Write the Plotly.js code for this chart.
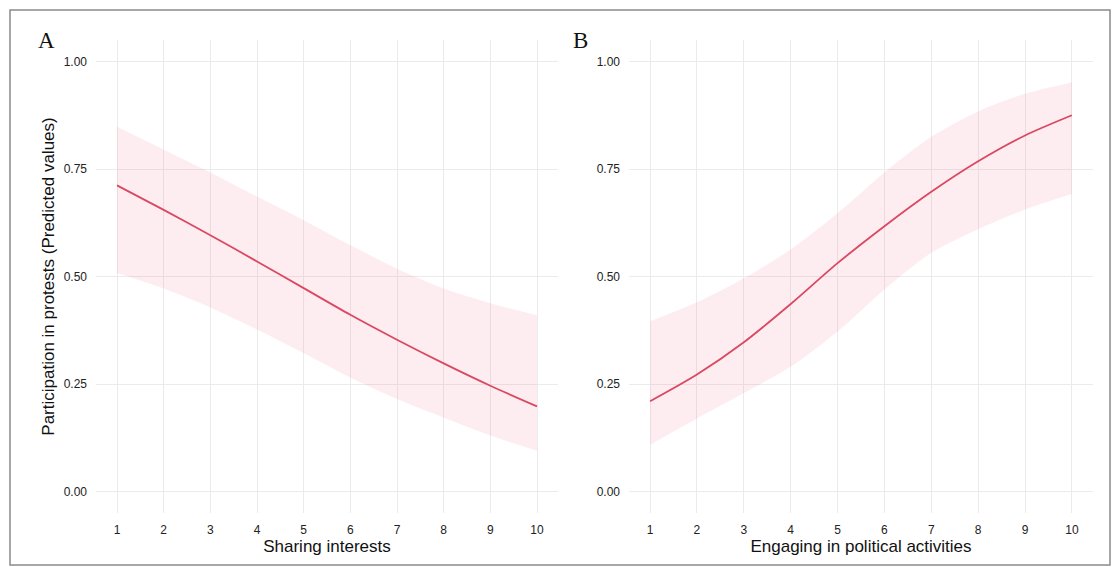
<!DOCTYPE html>
<html>
<head>
<meta charset="utf-8">
<script src="https://cdn.plot.ly/plotly-3.0.1.min.js"></script>
<style>
  html, body { margin: 0; padding: 0; background: #ffffff; }
  #chart { width: 1113px; height: 567px; }
</style>
</head>
<body>
<div id="chart"></div>
<script>
// ---- Data ----
const xValues = [1, 2, 3, 4, 5, 6, 7, 8, 9, 10];

// Panel A: Sharing interests
const sharingFit   = [0.712, 0.655, 0.596, 0.535, 0.473, 0.411, 0.353, 0.298, 0.246, 0.198];
const sharingLower = [0.508, 0.472, 0.428, 0.377, 0.322, 0.265, 0.215, 0.172, 0.130, 0.095];
const sharingUpper = [0.848, 0.795, 0.742, 0.686, 0.631, 0.573, 0.518, 0.472, 0.438, 0.410];

// Panel B: Engaging in political activities
const engagingFit   = [0.210, 0.272, 0.347, 0.436, 0.531, 0.617, 0.697, 0.768, 0.828, 0.875];
const engagingLower = [0.109, 0.170, 0.229, 0.290, 0.372, 0.470, 0.555, 0.610, 0.656, 0.692];
const engagingUpper = [0.396, 0.440, 0.496, 0.563, 0.647, 0.742, 0.825, 0.884, 0.925, 0.952];

const yTickValues = [0, 0.25, 0.5, 0.75, 1];
const yTickLabels = ['0.00', '0.25', '0.50', '0.75', '1.00'];
const xTickValues = [1, 2, 3, 4, 5, 6, 7, 8, 9, 10];
const xTickLabels = ['1', '2', '3', '4', '5', '6', '7', '8', '9', '10'];
const panelLabels = ['A', 'B'];
const xTitles = ['Sharing interests', 'Engaging in political activities'];
const yTitle = 'Participation in protests (Predicted values)';

// ---- Styling ----
const lineColor = '#da4862';
const ribbonColor = 'rgba(235, 80, 110, 0.10)';
const gridColor = '#ebebeb';
const sansFont = 'Liberation Sans, Arial, Helvetica, sans-serif';
const serifFont = 'Liberation Serif, Times New Roman, serif';

// Figure geometry (pixels)
const W = 1113, H = 567;
const M = { l: 96, r: 20, t: 40, b: 54 };
const PW = W - M.l - M.r, PH = H - M.t - M.b;
const px = v => (v - M.l) / PW;
const py = v => (H - M.b - v) / PH;

function ribbon(xs, lo, hi, xa, ya) {
  return [
    { x: xs, y: lo, xaxis: xa, yaxis: ya, type: 'scatter', mode: 'lines',
      line: { width: 0, color: 'rgba(0,0,0,0)', shape: 'spline', smoothing: 0.8 },
      hoverinfo: 'skip', showlegend: false },
    { x: xs, y: hi, xaxis: xa, yaxis: ya, type: 'scatter', mode: 'lines',
      line: { width: 0, color: 'rgba(0,0,0,0)', shape: 'spline', smoothing: 0.8 },
      fill: 'tonexty', fillcolor: ribbonColor, hoverinfo: 'skip', showlegend: false }
  ];
}

const traces = [
  ...ribbon(xValues, sharingLower, sharingUpper, 'x', 'y'),
  { x: xValues, y: sharingFit, xaxis: 'x', yaxis: 'y', type: 'scatter', mode: 'lines',
    line: { color: lineColor, width: 1.8, shape: 'spline', smoothing: 0.8 }, showlegend: false, name: 'Sharing interests' },
  ...ribbon(xValues, engagingLower, engagingUpper, 'x2', 'y2'),
  { x: xValues, y: engagingFit, xaxis: 'x2', yaxis: 'y2', type: 'scatter', mode: 'lines',
    line: { color: lineColor, width: 1.8, shape: 'spline', smoothing: 0.8 }, showlegend: false, name: 'Engaging in political activities' }
];

const tickFont = { family: sansFont, size: 12, color: '#222222' };
const titleFont = { family: sansFont, size: 17, color: '#111111' };

function xAxis(domain, title, anchor) {
  return {
    domain: domain, anchor: anchor, range: [0.55, 10.45],
    tickmode: 'array', tickvals: xTickValues, ticktext: xTickLabels,
    ticks: '', showline: false, zeroline: false,
    showgrid: true, gridcolor: gridColor, gridwidth: 1,
    tickfont: tickFont, ticklabelstandoff: 8,
    title: { text: title, font: titleFont, standoff: 3 },
    automargin: false, fixedrange: true
  };
}
function yAxis(anchor, title) {
  return {
    domain: [0, 1], anchor: anchor, range: [-0.05, 1.05],
    tickmode: 'array', tickvals: yTickValues, ticktext: yTickLabels,
    ticks: '', showline: false, zeroline: false,
    showgrid: true, gridcolor: gridColor, gridwidth: 1,
    tickfont: tickFont, ticklabelstandoff: 8,
    title: title ? { text: title, font: titleFont, standoff: 4 } : { text: '' },
    automargin: false, fixedrange: true
  };
}

const layout = {
  width: W, height: H,
  margin: M,
  paper_bgcolor: '#ffffff', plot_bgcolor: '#ffffff',
  showlegend: false,
  xaxis: xAxis([0, px(558)], xTitles[0], 'y'),
  yaxis: yAxis('x', yTitle),
  xaxis2: xAxis([px(629), 1], xTitles[1], 'y2'),
  yaxis2: yAxis('x2', null),
  annotations: [
    { text: panelLabels[0], xref: 'paper', yref: 'paper', x: px(46), y: py(40),
      xanchor: 'center', yanchor: 'middle', showarrow: false,
      font: { family: serifFont, size: 23, color: '#111111' } },
    { text: panelLabels[1], xref: 'paper', yref: 'paper', x: px(580), y: py(40),
      xanchor: 'center', yanchor: 'middle', showarrow: false,
      font: { family: serifFont, size: 23, color: '#111111' } }
  ],
  shapes: [
    { type: 'rect', xref: 'paper', yref: 'paper', x0: px(10), x1: px(1110), y0: py(565), y1: py(10),
      line: { color: '#8a8a8a', width: 1.5 }, fillcolor: 'rgba(0,0,0,0)', layer: 'above' }
  ]
};

Plotly.newPlot('chart', traces, layout, { staticPlot: true, displayModeBar: false });
</script>
</body>
</html>
